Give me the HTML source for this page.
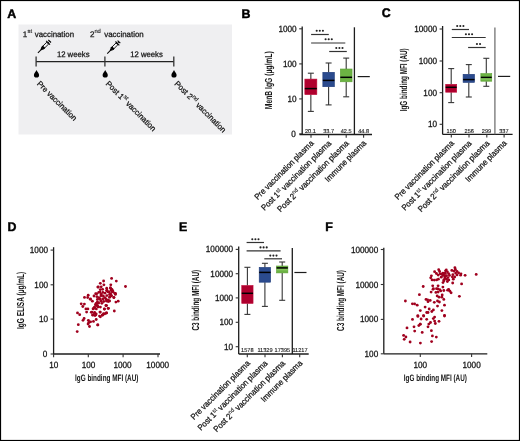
<!DOCTYPE html>
<html><head><meta charset="utf-8"><style>
html,body{margin:0;padding:0;background:#fff;}
svg{display:block;will-change:transform;}
text{font-family:"Liberation Sans",sans-serif;text-rendering:geometricPrecision;}
</style></head><body>
<svg width="520" height="441" viewBox="0 0 520 441">
<rect x="0.5" y="0.5" width="519" height="440" fill="#fff" stroke="#000" stroke-width="1.2"/>
<text x="7.20" y="17.60" font-size="12.4" text-anchor="start" font-weight="bold" fill="#000" stroke="#000" stroke-width="0.45" >A</text>
<text x="241.50" y="17.70" font-size="12.4" text-anchor="start" font-weight="bold" fill="#000" stroke="#000" stroke-width="0.45" >B</text>
<text x="381.70" y="17.20" font-size="12.4" text-anchor="start" font-weight="bold" fill="#000" stroke="#000" stroke-width="0.45" >C</text>
<text x="7.60" y="230.60" font-size="12.4" text-anchor="start" font-weight="bold" fill="#000" stroke="#000" stroke-width="0.45" >D</text>
<text x="179.00" y="230.60" font-size="12.4" text-anchor="start" font-weight="bold" fill="#000" stroke="#000" stroke-width="0.45" >E</text>
<text x="325.20" y="230.60" font-size="12.4" text-anchor="start" font-weight="bold" fill="#000" stroke="#000" stroke-width="0.45" >F</text>
<rect x="18.5" y="24.5" width="213.5" height="110" fill="#efeff1"/>
<line x1="36.10" y1="61.60" x2="173.80" y2="61.60" stroke="#222" stroke-width="1.1" stroke-linecap="butt"/>
<line x1="36.10" y1="56.60" x2="36.10" y2="66.40" stroke="#333" stroke-width="1.3" stroke-linecap="butt"/>
<line x1="104.90" y1="56.60" x2="104.90" y2="66.40" stroke="#333" stroke-width="1.3" stroke-linecap="butt"/>
<line x1="173.80" y1="56.60" x2="173.80" y2="66.40" stroke="#333" stroke-width="1.3" stroke-linecap="butt"/>
<g transform="translate(37.9,52.9) rotate(-45)" fill="none" stroke="#000"><line x1="0" y1="0" x2="5" y2="0" stroke-width="0.95"/><path d="M4.2 -0.6 L6.9 -1.7 L6.9 1.7 L4.2 0.6 Z" fill="#000" stroke="none"/><rect x="6.7" y="-1.7" width="2.0" height="3.4" fill="#000" stroke="none"/><rect x="6.9" y="-1.3" width="6.9" height="2.6" stroke-width="0.85"/><line x1="14.4" y1="-2.7" x2="14.4" y2="2.7" stroke-width="1.1"/><line x1="13.8" y1="0" x2="16.4" y2="0" stroke-width="0.9"/><line x1="16.6" y1="-1.9" x2="16.6" y2="1.9" stroke-width="1.1"/></g>
<g transform="translate(107.2,53.6) rotate(-45)" fill="none" stroke="#000"><line x1="0" y1="0" x2="5" y2="0" stroke-width="0.95"/><path d="M4.2 -0.6 L6.9 -1.7 L6.9 1.7 L4.2 0.6 Z" fill="#000" stroke="none"/><rect x="6.7" y="-1.7" width="2.0" height="3.4" fill="#000" stroke="none"/><rect x="6.9" y="-1.3" width="6.9" height="2.6" stroke-width="0.85"/><line x1="14.4" y1="-2.7" x2="14.4" y2="2.7" stroke-width="1.1"/><line x1="13.8" y1="0" x2="16.4" y2="0" stroke-width="0.9"/><line x1="16.6" y1="-1.9" x2="16.6" y2="1.9" stroke-width="1.1"/></g>
<path d="M36.5 70.0 C35.9 71.6 33.9 73.4 33.9 75.0 A2.6 2.6 0 0 0 39.1 75.0 C39.1 73.4 37.1 71.6 36.5 70.0 Z" fill="#000"/>
<path d="M105.2 70.0 C104.60000000000001 71.6 102.60000000000001 73.4 102.60000000000001 75.0 A2.6 2.6 0 0 0 107.8 75.0 C107.8 73.4 105.8 71.6 105.2 70.0 Z" fill="#000"/>
<path d="M174.0 70.0 C173.4 71.6 171.4 73.4 171.4 75.0 A2.6 2.6 0 0 0 176.6 75.0 C176.6 73.4 174.6 71.6 174.0 70.0 Z" fill="#000"/>
<text x="22.80" y="36.90" font-size="8.0" text-anchor="start" font-weight="normal" fill="#141414" stroke="#141414" stroke-width="0.25" >1</text>
<text x="27.50" y="33.30" font-size="5.8" text-anchor="start" font-weight="normal" fill="#141414" stroke="#141414" stroke-width="0.12" >st</text>
<text x="34.80" y="36.90" font-size="8.0" text-anchor="start" font-weight="normal" fill="#141414" stroke="#141414" stroke-width="0.25" textLength="39.2" lengthAdjust="spacingAndGlyphs">vaccination</text>
<text x="90.00" y="36.90" font-size="8.0" text-anchor="start" font-weight="normal" fill="#141414" stroke="#141414" stroke-width="0.25" >2</text>
<text x="94.40" y="33.30" font-size="5.8" text-anchor="start" font-weight="normal" fill="#141414" stroke="#141414" stroke-width="0.12" >nd</text>
<text x="104.20" y="36.90" font-size="8.0" text-anchor="start" font-weight="normal" fill="#141414" stroke="#141414" stroke-width="0.25" textLength="39.5" lengthAdjust="spacingAndGlyphs">vaccination</text>
<text x="56.90" y="57.20" font-size="8.0" text-anchor="start" font-weight="normal" fill="#141414" stroke="#141414" stroke-width="0.25" textLength="32.6" lengthAdjust="spacingAndGlyphs">12 weeks</text>
<text x="130.20" y="57.20" font-size="8.0" text-anchor="start" font-weight="normal" fill="#141414" stroke="#141414" stroke-width="0.25" textLength="32.6" lengthAdjust="spacingAndGlyphs">12 weeks</text>
<text transform="translate(36.6,84.2) rotate(45)" font-size="8.0" fill="#141414" stroke="#141414" stroke-width="0.25" textLength="52.6" lengthAdjust="spacingAndGlyphs">Pre vaccination</text>
<text transform="translate(105.3,84.2) rotate(45)" font-size="8.0" fill="#141414" stroke="#141414" stroke-width="0.25" textLength="67.2" lengthAdjust="spacingAndGlyphs">Post 1<tspan font-size="5.8" dy="-3.4" stroke-width="0.12">st</tspan><tspan dy="3.4"> vaccination</tspan></text>
<text transform="translate(174.0,84.2) rotate(45)" font-size="8.0" fill="#141414" stroke="#141414" stroke-width="0.25" textLength="69.0" lengthAdjust="spacingAndGlyphs">Post 2<tspan font-size="5.8" dy="-3.4" stroke-width="0.12">nd</tspan><tspan dy="3.4"> vaccination</tspan></text>
<line x1="302.20" y1="26.50" x2="302.20" y2="134.60" stroke="#1c1c1c" stroke-width="1.3" stroke-linecap="butt"/>
<line x1="299.20" y1="28.80" x2="302.20" y2="28.80" stroke="#333" stroke-width="1.1" stroke-linecap="butt"/>
<text x="296.60" y="31.80" font-size="9.0" text-anchor="end" font-weight="normal" fill="#161616" stroke="#161616" stroke-width="0.28" textLength="18.20" lengthAdjust="spacingAndGlyphs">1000</text>
<line x1="299.20" y1="63.90" x2="302.20" y2="63.90" stroke="#333" stroke-width="1.1" stroke-linecap="butt"/>
<text x="296.60" y="66.90" font-size="9.0" text-anchor="end" font-weight="normal" fill="#161616" stroke="#161616" stroke-width="0.28" textLength="13.65" lengthAdjust="spacingAndGlyphs">100</text>
<line x1="299.20" y1="98.90" x2="302.20" y2="98.90" stroke="#333" stroke-width="1.1" stroke-linecap="butt"/>
<text x="296.60" y="101.90" font-size="9.0" text-anchor="end" font-weight="normal" fill="#161616" stroke="#161616" stroke-width="0.28" textLength="9.10" lengthAdjust="spacingAndGlyphs">10</text>
<line x1="299.20" y1="133.90" x2="302.20" y2="133.90" stroke="#333" stroke-width="1.1" stroke-linecap="butt"/>
<text x="295.80" y="137.00" font-size="9.0" text-anchor="end" font-weight="normal" fill="#161616" stroke="#161616" stroke-width="0.28" textLength="4.55" lengthAdjust="spacingAndGlyphs">0</text>
<line x1="299.50" y1="134.50" x2="372.00" y2="134.50" stroke="#1c1c1c" stroke-width="1.3" stroke-linecap="butt"/>
<line x1="311.00" y1="134.50" x2="311.00" y2="137.70" stroke="#333" stroke-width="1.1" stroke-linecap="butt"/>
<line x1="328.60" y1="134.50" x2="328.60" y2="137.70" stroke="#333" stroke-width="1.1" stroke-linecap="butt"/>
<line x1="346.20" y1="134.50" x2="346.20" y2="137.70" stroke="#333" stroke-width="1.1" stroke-linecap="butt"/>
<line x1="363.60" y1="134.50" x2="363.60" y2="137.70" stroke="#333" stroke-width="1.1" stroke-linecap="butt"/>
<line x1="354.40" y1="27.30" x2="354.40" y2="134.50" stroke="#1c1c1c" stroke-width="1.3" stroke-linecap="butt"/>
<line x1="357.70" y1="76.60" x2="369.80" y2="76.60" stroke="#1c1c1c" stroke-width="1.2" stroke-linecap="butt"/>
<line x1="310.85" y1="73.20" x2="310.85" y2="79.10" stroke="#363636" stroke-width="1.1" stroke-linecap="butt"/>
<line x1="310.85" y1="94.60" x2="310.85" y2="111.40" stroke="#363636" stroke-width="1.1" stroke-linecap="butt"/>
<line x1="307.85" y1="73.20" x2="313.85" y2="73.20" stroke="#363636" stroke-width="1.1" stroke-linecap="butt"/>
<line x1="307.85" y1="111.40" x2="313.85" y2="111.40" stroke="#363636" stroke-width="1.1" stroke-linecap="butt"/>
<rect x="304.85" y="79.10" width="12.00" height="15.50" fill="#af002e" stroke="#bf0a38" stroke-width="0.6"/>
<line x1="304.85" y1="88.60" x2="316.85" y2="88.60" stroke="#000" stroke-width="1.5" stroke-linecap="butt"/>
<line x1="328.60" y1="63.00" x2="328.60" y2="72.30" stroke="#363636" stroke-width="1.1" stroke-linecap="butt"/>
<line x1="328.60" y1="86.70" x2="328.60" y2="104.90" stroke="#363636" stroke-width="1.1" stroke-linecap="butt"/>
<line x1="325.60" y1="63.00" x2="331.60" y2="63.00" stroke="#363636" stroke-width="1.1" stroke-linecap="butt"/>
<line x1="325.60" y1="104.90" x2="331.60" y2="104.90" stroke="#363636" stroke-width="1.1" stroke-linecap="butt"/>
<rect x="322.85" y="72.30" width="11.50" height="14.40" fill="#2b4b8e" stroke="#1d3a7a" stroke-width="0.6"/>
<line x1="322.85" y1="80.40" x2="334.35" y2="80.40" stroke="#000" stroke-width="1.5" stroke-linecap="butt"/>
<line x1="346.20" y1="58.10" x2="346.20" y2="69.00" stroke="#363636" stroke-width="1.1" stroke-linecap="butt"/>
<line x1="346.20" y1="81.80" x2="346.20" y2="96.80" stroke="#363636" stroke-width="1.1" stroke-linecap="butt"/>
<line x1="343.20" y1="58.10" x2="349.20" y2="58.10" stroke="#363636" stroke-width="1.1" stroke-linecap="butt"/>
<line x1="343.20" y1="96.80" x2="349.20" y2="96.80" stroke="#363636" stroke-width="1.1" stroke-linecap="butt"/>
<rect x="340.35" y="69.00" width="11.70" height="12.80" fill="#6cb343" stroke="#5aa032" stroke-width="0.6"/>
<line x1="340.35" y1="77.30" x2="352.05" y2="77.30" stroke="#000" stroke-width="1.5" stroke-linecap="butt"/>
<line x1="311.10" y1="34.50" x2="328.80" y2="34.50" stroke="#333" stroke-width="1.2" stroke-linecap="butt"/>
<circle cx="316.70" cy="30.80" r="1.05" fill="#222"/>
<circle cx="319.80" cy="30.80" r="1.05" fill="#222"/>
<circle cx="322.90" cy="30.80" r="1.05" fill="#222"/>
<line x1="311.10" y1="43.00" x2="345.30" y2="43.00" stroke="#333" stroke-width="1.2" stroke-linecap="butt"/>
<circle cx="325.60" cy="39.30" r="1.05" fill="#222"/>
<circle cx="328.70" cy="39.30" r="1.05" fill="#222"/>
<circle cx="331.80" cy="39.30" r="1.05" fill="#222"/>
<line x1="329.20" y1="51.50" x2="346.80" y2="51.50" stroke="#333" stroke-width="1.2" stroke-linecap="butt"/>
<circle cx="336.30" cy="48.00" r="1.05" fill="#222"/>
<circle cx="339.40" cy="48.00" r="1.05" fill="#222"/>
<circle cx="342.50" cy="48.00" r="1.05" fill="#222"/>
<text x="310.40" y="132.60" font-size="5.6" text-anchor="middle" font-weight="normal" fill="#161616" stroke="#161616" stroke-width="0.12" >20.1</text>
<text x="328.60" y="132.60" font-size="5.6" text-anchor="middle" font-weight="normal" fill="#161616" stroke="#161616" stroke-width="0.12" >33.7</text>
<text x="346.20" y="132.60" font-size="5.6" text-anchor="middle" font-weight="normal" fill="#161616" stroke="#161616" stroke-width="0.12" >42.5</text>
<text x="363.60" y="132.60" font-size="5.6" text-anchor="middle" font-weight="normal" fill="#161616" stroke="#161616" stroke-width="0.12" >44.8</text>
<line x1="442.60" y1="26.00" x2="442.60" y2="134.40" stroke="#1c1c1c" stroke-width="1.3" stroke-linecap="butt"/>
<line x1="439.60" y1="29.00" x2="442.60" y2="29.00" stroke="#333" stroke-width="1.1" stroke-linecap="butt"/>
<text x="437.00" y="32.00" font-size="9.0" text-anchor="end" font-weight="normal" fill="#161616" stroke="#161616" stroke-width="0.28" textLength="22.75" lengthAdjust="spacingAndGlyphs">10000</text>
<line x1="439.60" y1="61.00" x2="442.60" y2="61.00" stroke="#333" stroke-width="1.1" stroke-linecap="butt"/>
<text x="437.00" y="64.00" font-size="9.0" text-anchor="end" font-weight="normal" fill="#161616" stroke="#161616" stroke-width="0.28" textLength="18.20" lengthAdjust="spacingAndGlyphs">1000</text>
<line x1="439.60" y1="92.70" x2="442.60" y2="92.70" stroke="#333" stroke-width="1.1" stroke-linecap="butt"/>
<text x="437.00" y="95.70" font-size="9.0" text-anchor="end" font-weight="normal" fill="#161616" stroke="#161616" stroke-width="0.28" textLength="13.65" lengthAdjust="spacingAndGlyphs">100</text>
<line x1="439.60" y1="124.30" x2="442.60" y2="124.30" stroke="#333" stroke-width="1.1" stroke-linecap="butt"/>
<text x="437.00" y="127.30" font-size="9.0" text-anchor="end" font-weight="normal" fill="#161616" stroke="#161616" stroke-width="0.28" textLength="9.10" lengthAdjust="spacingAndGlyphs">10</text>
<line x1="442.60" y1="134.30" x2="512.60" y2="134.30" stroke="#1c1c1c" stroke-width="1.3" stroke-linecap="butt"/>
<line x1="451.30" y1="134.30" x2="451.30" y2="137.50" stroke="#333" stroke-width="1.1" stroke-linecap="butt"/>
<line x1="469.00" y1="134.30" x2="469.00" y2="137.50" stroke="#333" stroke-width="1.1" stroke-linecap="butt"/>
<line x1="486.80" y1="134.30" x2="486.80" y2="137.50" stroke="#333" stroke-width="1.1" stroke-linecap="butt"/>
<line x1="504.10" y1="134.30" x2="504.10" y2="137.50" stroke="#333" stroke-width="1.1" stroke-linecap="butt"/>
<line x1="494.90" y1="27.60" x2="494.90" y2="134.30" stroke="#7c7c7c" stroke-width="1.4" stroke-linecap="butt"/>
<line x1="498.00" y1="76.40" x2="510.20" y2="76.40" stroke="#1c1c1c" stroke-width="1.2" stroke-linecap="butt"/>
<line x1="451.20" y1="68.60" x2="451.20" y2="84.30" stroke="#363636" stroke-width="1.1" stroke-linecap="butt"/>
<line x1="451.20" y1="92.20" x2="451.20" y2="102.60" stroke="#363636" stroke-width="1.1" stroke-linecap="butt"/>
<line x1="448.20" y1="68.60" x2="454.20" y2="68.60" stroke="#363636" stroke-width="1.1" stroke-linecap="butt"/>
<line x1="448.20" y1="102.60" x2="454.20" y2="102.60" stroke="#363636" stroke-width="1.1" stroke-linecap="butt"/>
<rect x="445.70" y="84.30" width="11.00" height="7.90" fill="#af002e" stroke="#bf0a38" stroke-width="0.6"/>
<line x1="445.70" y1="87.30" x2="456.70" y2="87.30" stroke="#000" stroke-width="1.5" stroke-linecap="butt"/>
<line x1="468.80" y1="64.60" x2="468.80" y2="74.30" stroke="#363636" stroke-width="1.1" stroke-linecap="butt"/>
<line x1="468.80" y1="82.40" x2="468.80" y2="97.00" stroke="#363636" stroke-width="1.1" stroke-linecap="butt"/>
<line x1="465.80" y1="64.60" x2="471.80" y2="64.60" stroke="#363636" stroke-width="1.1" stroke-linecap="butt"/>
<line x1="465.80" y1="97.00" x2="471.80" y2="97.00" stroke="#363636" stroke-width="1.1" stroke-linecap="butt"/>
<rect x="463.10" y="74.30" width="11.40" height="8.10" fill="#2b4b8e" stroke="#1d3a7a" stroke-width="0.6"/>
<line x1="463.10" y1="79.60" x2="474.50" y2="79.60" stroke="#000" stroke-width="1.5" stroke-linecap="butt"/>
<line x1="486.30" y1="58.30" x2="486.30" y2="73.60" stroke="#363636" stroke-width="1.1" stroke-linecap="butt"/>
<line x1="486.30" y1="81.20" x2="486.30" y2="86.30" stroke="#363636" stroke-width="1.1" stroke-linecap="butt"/>
<line x1="483.30" y1="58.30" x2="489.30" y2="58.30" stroke="#363636" stroke-width="1.1" stroke-linecap="butt"/>
<line x1="483.30" y1="86.30" x2="489.30" y2="86.30" stroke="#363636" stroke-width="1.1" stroke-linecap="butt"/>
<rect x="480.85" y="73.60" width="10.90" height="7.60" fill="#6cb343" stroke="#5aa032" stroke-width="0.6"/>
<line x1="480.85" y1="77.40" x2="491.75" y2="77.40" stroke="#000" stroke-width="1.5" stroke-linecap="butt"/>
<line x1="481.00" y1="79.00" x2="491.60" y2="79.00" stroke="#9ad474" stroke-width="0.8" stroke-linecap="butt"/>
<line x1="451.80" y1="29.50" x2="469.00" y2="29.50" stroke="#333" stroke-width="1.2" stroke-linecap="butt"/>
<circle cx="457.20" cy="26.00" r="1.05" fill="#222"/>
<circle cx="460.30" cy="26.00" r="1.05" fill="#222"/>
<circle cx="463.40" cy="26.00" r="1.05" fill="#222"/>
<line x1="451.80" y1="37.50" x2="485.70" y2="37.50" stroke="#333" stroke-width="1.2" stroke-linecap="butt"/>
<circle cx="465.90" cy="34.20" r="1.05" fill="#222"/>
<circle cx="469.00" cy="34.20" r="1.05" fill="#222"/>
<circle cx="472.10" cy="34.20" r="1.05" fill="#222"/>
<line x1="468.10" y1="47.50" x2="485.70" y2="47.50" stroke="#333" stroke-width="1.2" stroke-linecap="butt"/>
<circle cx="476.95" cy="44.00" r="1.05" fill="#222"/>
<circle cx="480.05" cy="44.00" r="1.05" fill="#222"/>
<text x="451.20" y="132.70" font-size="5.6" text-anchor="middle" font-weight="normal" fill="#161616" stroke="#161616" stroke-width="0.12" >150</text>
<text x="469.20" y="132.70" font-size="5.6" text-anchor="middle" font-weight="normal" fill="#161616" stroke="#161616" stroke-width="0.12" >256</text>
<text x="486.50" y="132.70" font-size="5.6" text-anchor="middle" font-weight="normal" fill="#161616" stroke="#161616" stroke-width="0.12" >299</text>
<text x="503.90" y="132.70" font-size="5.6" text-anchor="middle" font-weight="normal" fill="#161616" stroke="#161616" stroke-width="0.12" >337</text>
<line x1="53.60" y1="247.20" x2="53.60" y2="354.00" stroke="#1c1c1c" stroke-width="1.3" stroke-linecap="butt"/>
<line x1="50.60" y1="250.10" x2="53.60" y2="250.10" stroke="#333" stroke-width="1.1" stroke-linecap="butt"/>
<text x="48.00" y="253.10" font-size="9.0" text-anchor="end" font-weight="normal" fill="#161616" stroke="#161616" stroke-width="0.28" textLength="18.20" lengthAdjust="spacingAndGlyphs">1000</text>
<line x1="50.60" y1="284.80" x2="53.60" y2="284.80" stroke="#333" stroke-width="1.1" stroke-linecap="butt"/>
<text x="48.00" y="287.80" font-size="9.0" text-anchor="end" font-weight="normal" fill="#161616" stroke="#161616" stroke-width="0.28" textLength="13.65" lengthAdjust="spacingAndGlyphs">100</text>
<line x1="50.60" y1="319.10" x2="53.60" y2="319.10" stroke="#333" stroke-width="1.1" stroke-linecap="butt"/>
<text x="48.00" y="322.10" font-size="9.0" text-anchor="end" font-weight="normal" fill="#161616" stroke="#161616" stroke-width="0.28" textLength="9.10" lengthAdjust="spacingAndGlyphs">10</text>
<line x1="50.60" y1="354.00" x2="53.60" y2="354.00" stroke="#333" stroke-width="1.1" stroke-linecap="butt"/>
<text x="47.20" y="357.10" font-size="9.0" text-anchor="end" font-weight="normal" fill="#161616" stroke="#161616" stroke-width="0.28" textLength="4.55" lengthAdjust="spacingAndGlyphs">0</text>
<line x1="53.60" y1="354.00" x2="160.00" y2="354.00" stroke="#1c1c1c" stroke-width="1.3" stroke-linecap="butt"/>
<line x1="53.60" y1="354.00" x2="53.60" y2="357.20" stroke="#333" stroke-width="1.1" stroke-linecap="butt"/>
<line x1="88.30" y1="354.00" x2="88.30" y2="357.20" stroke="#333" stroke-width="1.1" stroke-linecap="butt"/>
<line x1="123.10" y1="354.00" x2="123.10" y2="357.20" stroke="#333" stroke-width="1.1" stroke-linecap="butt"/>
<line x1="158.00" y1="354.00" x2="158.00" y2="357.20" stroke="#333" stroke-width="1.1" stroke-linecap="butt"/>
<text x="53.80" y="367.80" font-size="9.0" text-anchor="middle" font-weight="normal" fill="#161616" stroke="#161616" stroke-width="0.28" textLength="9.10" lengthAdjust="spacingAndGlyphs">10</text>
<text x="88.50" y="367.80" font-size="9.0" text-anchor="middle" font-weight="normal" fill="#161616" stroke="#161616" stroke-width="0.28" textLength="13.65" lengthAdjust="spacingAndGlyphs">100</text>
<text x="122.50" y="367.80" font-size="9.0" text-anchor="middle" font-weight="normal" fill="#161616" stroke="#161616" stroke-width="0.28" textLength="18.20" lengthAdjust="spacingAndGlyphs">1000</text>
<text x="157.70" y="367.80" font-size="9.0" text-anchor="middle" font-weight="normal" fill="#161616" stroke="#161616" stroke-width="0.28" textLength="22.75" lengthAdjust="spacingAndGlyphs">10000</text>
<line x1="238.70" y1="246.60" x2="238.70" y2="354.00" stroke="#1c1c1c" stroke-width="1.3" stroke-linecap="butt"/>
<line x1="235.70" y1="249.40" x2="238.70" y2="249.40" stroke="#333" stroke-width="1.1" stroke-linecap="butt"/>
<text x="233.10" y="252.40" font-size="9.0" text-anchor="end" font-weight="normal" fill="#161616" stroke="#161616" stroke-width="0.28" textLength="27.30" lengthAdjust="spacingAndGlyphs">100000</text>
<line x1="235.70" y1="273.70" x2="238.70" y2="273.70" stroke="#333" stroke-width="1.1" stroke-linecap="butt"/>
<text x="233.10" y="276.70" font-size="9.0" text-anchor="end" font-weight="normal" fill="#161616" stroke="#161616" stroke-width="0.28" textLength="22.75" lengthAdjust="spacingAndGlyphs">10000</text>
<line x1="235.70" y1="297.90" x2="238.70" y2="297.90" stroke="#333" stroke-width="1.1" stroke-linecap="butt"/>
<text x="233.10" y="300.90" font-size="9.0" text-anchor="end" font-weight="normal" fill="#161616" stroke="#161616" stroke-width="0.28" textLength="18.20" lengthAdjust="spacingAndGlyphs">1000</text>
<line x1="235.70" y1="322.30" x2="238.70" y2="322.30" stroke="#333" stroke-width="1.1" stroke-linecap="butt"/>
<text x="233.10" y="325.30" font-size="9.0" text-anchor="end" font-weight="normal" fill="#161616" stroke="#161616" stroke-width="0.28" textLength="13.65" lengthAdjust="spacingAndGlyphs">100</text>
<line x1="235.70" y1="346.70" x2="238.70" y2="346.70" stroke="#333" stroke-width="1.1" stroke-linecap="butt"/>
<text x="233.10" y="349.70" font-size="9.0" text-anchor="end" font-weight="normal" fill="#161616" stroke="#161616" stroke-width="0.28" textLength="9.10" lengthAdjust="spacingAndGlyphs">10</text>
<line x1="238.70" y1="354.00" x2="308.70" y2="354.00" stroke="#1c1c1c" stroke-width="1.3" stroke-linecap="butt"/>
<line x1="247.30" y1="354.00" x2="247.30" y2="357.20" stroke="#333" stroke-width="1.1" stroke-linecap="butt"/>
<line x1="265.00" y1="354.00" x2="265.00" y2="357.20" stroke="#333" stroke-width="1.1" stroke-linecap="butt"/>
<line x1="282.40" y1="354.00" x2="282.40" y2="357.20" stroke="#333" stroke-width="1.1" stroke-linecap="butt"/>
<line x1="299.70" y1="354.00" x2="299.70" y2="357.20" stroke="#333" stroke-width="1.1" stroke-linecap="butt"/>
<line x1="292.30" y1="248.00" x2="292.30" y2="354.00" stroke="#1c1c1c" stroke-width="1.3" stroke-linecap="butt"/>
<line x1="294.40" y1="272.50" x2="306.50" y2="272.50" stroke="#1c1c1c" stroke-width="1.2" stroke-linecap="butt"/>
<line x1="247.40" y1="267.30" x2="247.40" y2="285.50" stroke="#363636" stroke-width="1.1" stroke-linecap="butt"/>
<line x1="247.40" y1="303.40" x2="247.40" y2="314.40" stroke="#363636" stroke-width="1.1" stroke-linecap="butt"/>
<line x1="244.40" y1="267.30" x2="250.40" y2="267.30" stroke="#363636" stroke-width="1.1" stroke-linecap="butt"/>
<line x1="244.40" y1="314.40" x2="250.40" y2="314.40" stroke="#363636" stroke-width="1.1" stroke-linecap="butt"/>
<rect x="241.75" y="285.50" width="11.30" height="17.90" fill="#af002e" stroke="#bf0a38" stroke-width="0.6"/>
<line x1="241.75" y1="293.30" x2="253.05" y2="293.30" stroke="#000" stroke-width="1.5" stroke-linecap="butt"/>
<line x1="264.90" y1="263.30" x2="264.90" y2="267.40" stroke="#363636" stroke-width="1.1" stroke-linecap="butt"/>
<line x1="264.90" y1="282.20" x2="264.90" y2="306.40" stroke="#363636" stroke-width="1.1" stroke-linecap="butt"/>
<line x1="261.90" y1="263.30" x2="267.90" y2="263.30" stroke="#363636" stroke-width="1.1" stroke-linecap="butt"/>
<line x1="261.90" y1="306.40" x2="267.90" y2="306.40" stroke="#363636" stroke-width="1.1" stroke-linecap="butt"/>
<rect x="259.20" y="267.40" width="11.40" height="14.80" fill="#2b4b8e" stroke="#1d3a7a" stroke-width="0.6"/>
<line x1="259.20" y1="272.40" x2="270.60" y2="272.40" stroke="#000" stroke-width="1.5" stroke-linecap="butt"/>
<line x1="282.20" y1="262.00" x2="282.20" y2="266.00" stroke="#363636" stroke-width="1.1" stroke-linecap="butt"/>
<line x1="282.20" y1="272.90" x2="282.20" y2="300.30" stroke="#363636" stroke-width="1.1" stroke-linecap="butt"/>
<line x1="279.20" y1="262.00" x2="285.20" y2="262.00" stroke="#363636" stroke-width="1.1" stroke-linecap="butt"/>
<line x1="279.20" y1="300.30" x2="285.20" y2="300.30" stroke="#363636" stroke-width="1.1" stroke-linecap="butt"/>
<rect x="276.55" y="266.00" width="11.30" height="6.90" fill="#6cb343" stroke="#5aa032" stroke-width="0.6"/>
<line x1="276.55" y1="267.90" x2="287.85" y2="267.90" stroke="#000" stroke-width="1.5" stroke-linecap="butt"/>
<line x1="276.80" y1="269.80" x2="287.60" y2="269.80" stroke="#9ad474" stroke-width="0.8" stroke-linecap="butt"/>
<line x1="246.60" y1="242.50" x2="264.00" y2="242.50" stroke="#333" stroke-width="1.2" stroke-linecap="butt"/>
<circle cx="252.30" cy="239.30" r="1.05" fill="#222"/>
<circle cx="255.40" cy="239.30" r="1.05" fill="#222"/>
<circle cx="258.50" cy="239.30" r="1.05" fill="#222"/>
<line x1="246.60" y1="250.80" x2="280.60" y2="250.80" stroke="#333" stroke-width="1.2" stroke-linecap="butt"/>
<circle cx="260.50" cy="247.40" r="1.05" fill="#222"/>
<circle cx="263.60" cy="247.40" r="1.05" fill="#222"/>
<circle cx="266.70" cy="247.40" r="1.05" fill="#222"/>
<line x1="264.30" y1="258.80" x2="282.00" y2="258.80" stroke="#333" stroke-width="1.2" stroke-linecap="butt"/>
<circle cx="270.30" cy="255.60" r="1.05" fill="#222"/>
<circle cx="273.40" cy="255.60" r="1.05" fill="#222"/>
<circle cx="276.50" cy="255.60" r="1.05" fill="#222"/>
<text x="247.30" y="351.80" font-size="5.6" text-anchor="middle" font-weight="normal" fill="#161616" stroke="#161616" stroke-width="0.12" >1578</text>
<text x="265.00" y="351.80" font-size="5.6" text-anchor="middle" font-weight="normal" fill="#161616" stroke="#161616" stroke-width="0.12" >11329</text>
<text x="282.40" y="351.80" font-size="5.6" text-anchor="middle" font-weight="normal" fill="#161616" stroke="#161616" stroke-width="0.12" >17395</text>
<text x="300.00" y="351.80" font-size="5.6" text-anchor="middle" font-weight="normal" fill="#161616" stroke="#161616" stroke-width="0.12" >11217</text>
<line x1="383.80" y1="247.70" x2="383.80" y2="353.80" stroke="#1c1c1c" stroke-width="1.3" stroke-linecap="butt"/>
<line x1="380.80" y1="249.50" x2="383.80" y2="249.50" stroke="#333" stroke-width="1.1" stroke-linecap="butt"/>
<text x="378.20" y="252.50" font-size="9.0" text-anchor="end" font-weight="normal" fill="#161616" stroke="#161616" stroke-width="0.28" textLength="27.30" lengthAdjust="spacingAndGlyphs">100000</text>
<line x1="380.80" y1="284.50" x2="383.80" y2="284.50" stroke="#333" stroke-width="1.1" stroke-linecap="butt"/>
<text x="378.20" y="287.50" font-size="9.0" text-anchor="end" font-weight="normal" fill="#161616" stroke="#161616" stroke-width="0.28" textLength="22.75" lengthAdjust="spacingAndGlyphs">10000</text>
<line x1="380.80" y1="319.40" x2="383.80" y2="319.40" stroke="#333" stroke-width="1.1" stroke-linecap="butt"/>
<text x="378.20" y="322.40" font-size="9.0" text-anchor="end" font-weight="normal" fill="#161616" stroke="#161616" stroke-width="0.28" textLength="18.20" lengthAdjust="spacingAndGlyphs">1000</text>
<line x1="380.80" y1="353.80" x2="383.80" y2="353.80" stroke="#333" stroke-width="1.1" stroke-linecap="butt"/>
<text x="378.20" y="356.80" font-size="9.0" text-anchor="end" font-weight="normal" fill="#161616" stroke="#161616" stroke-width="0.28" textLength="13.65" lengthAdjust="spacingAndGlyphs">100</text>
<line x1="383.80" y1="353.80" x2="487.30" y2="353.80" stroke="#1c1c1c" stroke-width="1.3" stroke-linecap="butt"/>
<line x1="420.30" y1="353.80" x2="420.30" y2="357.00" stroke="#333" stroke-width="1.1" stroke-linecap="butt"/>
<line x1="471.60" y1="353.80" x2="471.60" y2="357.00" stroke="#333" stroke-width="1.1" stroke-linecap="butt"/>
<text x="420.30" y="367.60" font-size="9.0" text-anchor="middle" font-weight="normal" fill="#161616" stroke="#161616" stroke-width="0.28" textLength="13.65" lengthAdjust="spacingAndGlyphs">100</text>
<text x="471.60" y="367.60" font-size="9.0" text-anchor="middle" font-weight="normal" fill="#161616" stroke="#161616" stroke-width="0.28" textLength="18.20" lengthAdjust="spacingAndGlyphs">1000</text>
<text transform="translate(314.20,143.80) rotate(-45)" font-size="8.4" text-anchor="end" fill="#161616" stroke="#161616" stroke-width="0.26" textLength="79.9" lengthAdjust="spacingAndGlyphs">Pre vaccination plasma</text>
<text transform="translate(331.80,143.80) rotate(-45)" font-size="8.4" text-anchor="end" fill="#161616" stroke="#161616" stroke-width="0.26" textLength="95.2" lengthAdjust="spacingAndGlyphs">Post 1<tspan font-size="5.8" dy="-3.2" stroke-width="0.1">st</tspan><tspan dy="3.2"> vaccination plasma</tspan></text>
<text transform="translate(349.40,143.80) rotate(-45)" font-size="8.4" text-anchor="end" fill="#161616" stroke="#161616" stroke-width="0.26" textLength="97.3" lengthAdjust="spacingAndGlyphs">Post 2<tspan font-size="5.8" dy="-3.2" stroke-width="0.1">nd</tspan><tspan dy="3.2"> vaccination plasma</tspan></text>
<text transform="translate(366.80,143.80) rotate(-45)" font-size="8.4" text-anchor="end" fill="#161616" stroke="#161616" stroke-width="0.26" textLength="54.6" lengthAdjust="spacingAndGlyphs">Immune plasma</text>
<text transform="translate(454.50,143.80) rotate(-45)" font-size="8.4" text-anchor="end" fill="#161616" stroke="#161616" stroke-width="0.26" textLength="79.9" lengthAdjust="spacingAndGlyphs">Pre vaccination plasma</text>
<text transform="translate(472.20,143.80) rotate(-45)" font-size="8.4" text-anchor="end" fill="#161616" stroke="#161616" stroke-width="0.26" textLength="95.2" lengthAdjust="spacingAndGlyphs">Post 1<tspan font-size="5.8" dy="-3.2" stroke-width="0.1">st</tspan><tspan dy="3.2"> vaccination plasma</tspan></text>
<text transform="translate(490.00,143.80) rotate(-45)" font-size="8.4" text-anchor="end" fill="#161616" stroke="#161616" stroke-width="0.26" textLength="97.3" lengthAdjust="spacingAndGlyphs">Post 2<tspan font-size="5.8" dy="-3.2" stroke-width="0.1">nd</tspan><tspan dy="3.2"> vaccination plasma</tspan></text>
<text transform="translate(507.30,143.80) rotate(-45)" font-size="8.4" text-anchor="end" fill="#161616" stroke="#161616" stroke-width="0.26" textLength="54.6" lengthAdjust="spacingAndGlyphs">Immune plasma</text>
<text transform="translate(250.50,363.80) rotate(-45)" font-size="8.4" text-anchor="end" fill="#161616" stroke="#161616" stroke-width="0.26" textLength="79.9" lengthAdjust="spacingAndGlyphs">Pre vaccination plasma</text>
<text transform="translate(268.20,363.80) rotate(-45)" font-size="8.4" text-anchor="end" fill="#161616" stroke="#161616" stroke-width="0.26" textLength="95.2" lengthAdjust="spacingAndGlyphs">Post 1<tspan font-size="5.8" dy="-3.2" stroke-width="0.1">st</tspan><tspan dy="3.2"> vaccination plasma</tspan></text>
<text transform="translate(285.60,363.80) rotate(-45)" font-size="8.4" text-anchor="end" fill="#161616" stroke="#161616" stroke-width="0.26" textLength="97.3" lengthAdjust="spacingAndGlyphs">Post 2<tspan font-size="5.8" dy="-3.2" stroke-width="0.1">nd</tspan><tspan dy="3.2"> vaccination plasma</tspan></text>
<text transform="translate(302.90,363.80) rotate(-45)" font-size="8.4" text-anchor="end" fill="#161616" stroke="#161616" stroke-width="0.26" textLength="54.6" lengthAdjust="spacingAndGlyphs">Immune plasma</text>
<text transform="translate(271.60,109.20) rotate(-90)" font-size="10.2" font-weight="bold" fill="#161616" textLength="57.9" lengthAdjust="spacingAndGlyphs">MenB IgG (µg/mL)</text>
<text transform="translate(407.00,111.30) rotate(-90)" font-size="10.2" font-weight="bold" fill="#161616" textLength="63.0" lengthAdjust="spacingAndGlyphs">IgG binding MFI (AU)</text>
<text transform="translate(23.80,329.00) rotate(-90)" font-size="10.2" font-weight="bold" fill="#161616" textLength="57.2" lengthAdjust="spacingAndGlyphs">IgG ELISA (µg/mL)</text>
<text transform="translate(199.10,330.60) rotate(-90)" font-size="10.2" font-weight="bold" fill="#161616" textLength="60.7" lengthAdjust="spacingAndGlyphs">C3 binding MFI (AU)</text>
<text transform="translate(343.80,330.90) rotate(-90)" font-size="10.2" font-weight="bold" fill="#161616" textLength="60.9" lengthAdjust="spacingAndGlyphs">C3 binding MFI (AU)</text>
<text x="75" y="380.9" font-size="9.3" font-weight="bold" fill="#161616" textLength="63.4" lengthAdjust="spacingAndGlyphs">IgG binding MFI (AU)</text>
<text x="403.8" y="380.9" font-size="9.3" font-weight="bold" fill="#161616" textLength="63.1" lengthAdjust="spacingAndGlyphs">IgG binding MFI (AU)</text>
<g fill="#a0001e">
<circle cx="111.6" cy="278.4" r="1.42"/>
<circle cx="116.3" cy="281.1" r="1.42"/>
<circle cx="103.6" cy="281.0" r="1.42"/>
<circle cx="100.3" cy="283.3" r="1.42"/>
<circle cx="103.9" cy="284.8" r="1.42"/>
<circle cx="110.8" cy="284.8" r="1.42"/>
<circle cx="125.5" cy="286.5" r="1.42"/>
<circle cx="98.3" cy="287.0" r="1.42"/>
<circle cx="101.2" cy="286.8" r="1.42"/>
<circle cx="106.7" cy="288.2" r="1.42"/>
<circle cx="110.4" cy="287.9" r="1.42"/>
<circle cx="100.3" cy="289.6" r="1.42"/>
<circle cx="102.6" cy="289.3" r="1.42"/>
<circle cx="106.9" cy="290.2" r="1.42"/>
<circle cx="111.8" cy="289.3" r="1.42"/>
<circle cx="112.7" cy="291.1" r="1.42"/>
<circle cx="97.8" cy="287.1" r="1.42"/>
<circle cx="98.7" cy="292.4" r="1.42"/>
<circle cx="99.9" cy="291.9" r="1.42"/>
<circle cx="102.8" cy="292.4" r="1.42"/>
<circle cx="101.2" cy="294.2" r="1.42"/>
<circle cx="106.7" cy="290.8" r="1.42"/>
<circle cx="108.2" cy="291.9" r="1.42"/>
<circle cx="111.0" cy="290.1" r="1.42"/>
<circle cx="112.3" cy="291.9" r="1.42"/>
<circle cx="114.8" cy="293.3" r="1.42"/>
<circle cx="105.1" cy="293.1" r="1.42"/>
<circle cx="106.9" cy="295.6" r="1.42"/>
<circle cx="109.6" cy="294.4" r="1.42"/>
<circle cx="111.0" cy="295.3" r="1.42"/>
<circle cx="113.9" cy="297.6" r="1.42"/>
<circle cx="109.6" cy="297.2" r="1.42"/>
<circle cx="96.7" cy="293.8" r="1.42"/>
<circle cx="96.9" cy="296.7" r="1.42"/>
<circle cx="98.9" cy="297.6" r="1.42"/>
<circle cx="101.0" cy="295.8" r="1.42"/>
<circle cx="103.3" cy="296.0" r="1.42"/>
<circle cx="104.8" cy="297.6" r="1.42"/>
<circle cx="97.4" cy="299.4" r="1.42"/>
<circle cx="100.1" cy="299.2" r="1.42"/>
<circle cx="102.8" cy="299.0" r="1.42"/>
<circle cx="105.8" cy="299.0" r="1.42"/>
<circle cx="101.0" cy="301.2" r="1.42"/>
<circle cx="103.7" cy="301.5" r="1.42"/>
<circle cx="106.4" cy="301.0" r="1.42"/>
<circle cx="109.6" cy="301.0" r="1.42"/>
<circle cx="97.4" cy="301.9" r="1.42"/>
<circle cx="98.7" cy="303.0" r="1.42"/>
<circle cx="101.9" cy="303.3" r="1.42"/>
<circle cx="95.7" cy="293.7" r="1.42"/>
<circle cx="94.0" cy="296.0" r="1.42"/>
<circle cx="88.2" cy="295.2" r="1.42"/>
<circle cx="84.5" cy="297.4" r="1.42"/>
<circle cx="110.5" cy="287.8" r="1.42"/>
<circle cx="112.1" cy="289.9" r="1.42"/>
<circle cx="113.0" cy="291.7" r="1.42"/>
<circle cx="115.5" cy="293.5" r="1.42"/>
<circle cx="109.4" cy="291.9" r="1.42"/>
<circle cx="110.7" cy="293.9" r="1.42"/>
<circle cx="111.6" cy="295.8" r="1.42"/>
<circle cx="109.8" cy="297.1" r="1.42"/>
<circle cx="108.2" cy="301.6" r="1.42"/>
<circle cx="115.9" cy="302.1" r="1.42"/>
<circle cx="118.2" cy="301.2" r="1.42"/>
<circle cx="106.6" cy="305.6" r="1.42"/>
<circle cx="108.5" cy="308.3" r="1.42"/>
<circle cx="104.3" cy="309.0" r="1.42"/>
<circle cx="114.3" cy="311.0" r="1.42"/>
<circle cx="100.0" cy="312.1" r="1.42"/>
<circle cx="106.6" cy="312.9" r="1.42"/>
<circle cx="104.6" cy="313.9" r="1.42"/>
<circle cx="102.7" cy="315.0" r="1.42"/>
<circle cx="100.4" cy="316.8" r="1.42"/>
<circle cx="96.2" cy="319.5" r="1.42"/>
<circle cx="97.7" cy="324.9" r="1.42"/>
<circle cx="87.7" cy="297.5" r="1.42"/>
<circle cx="90.3" cy="299.3" r="1.42"/>
<circle cx="92.4" cy="301.2" r="1.42"/>
<circle cx="81.2" cy="303.8" r="1.42"/>
<circle cx="84.4" cy="304.1" r="1.42"/>
<circle cx="82.8" cy="306.5" r="1.42"/>
<circle cx="85.9" cy="308.9" r="1.42"/>
<circle cx="87.9" cy="308.9" r="1.42"/>
<circle cx="86.6" cy="312.1" r="1.42"/>
<circle cx="77.5" cy="312.9" r="1.42"/>
<circle cx="79.7" cy="314.7" r="1.42"/>
<circle cx="91.3" cy="312.3" r="1.42"/>
<circle cx="93.2" cy="308.7" r="1.42"/>
<circle cx="94.6" cy="312.3" r="1.42"/>
<circle cx="96.1" cy="313.8" r="1.42"/>
<circle cx="92.8" cy="315.2" r="1.42"/>
<circle cx="95.0" cy="315.6" r="1.42"/>
<circle cx="96.8" cy="305.4" r="1.42"/>
<circle cx="96.1" cy="303.3" r="1.42"/>
<circle cx="98.2" cy="306.9" r="1.42"/>
<circle cx="94.6" cy="307.6" r="1.42"/>
<circle cx="99.7" cy="298.9" r="1.42"/>
<circle cx="84.1" cy="318.5" r="1.42"/>
<circle cx="83.0" cy="320.3" r="1.42"/>
<circle cx="88.4" cy="320.3" r="1.42"/>
<circle cx="88.8" cy="322.5" r="1.42"/>
<circle cx="90.6" cy="321.8" r="1.42"/>
<circle cx="88.1" cy="324.0" r="1.42"/>
<circle cx="93.5" cy="321.4" r="1.42"/>
<circle cx="78.3" cy="324.7" r="1.42"/>
<circle cx="89.5" cy="326.5" r="1.42"/>
<circle cx="97.9" cy="324.9" r="1.42"/>
<circle cx="113.9" cy="297.5" r="1.42"/>
<circle cx="115.4" cy="294.4" r="1.42"/>
<circle cx="90.5" cy="298.9" r="1.42"/>
<circle cx="108.1" cy="299.8" r="1.42"/>
<circle cx="95.4" cy="304.8" r="1.42"/>
<circle cx="97.3" cy="303.4" r="1.42"/>
<circle cx="97.7" cy="306.2" r="1.42"/>
<circle cx="100.4" cy="307.1" r="1.42"/>
<circle cx="105.9" cy="305.5" r="1.42"/>
<circle cx="94.5" cy="307.1" r="1.42"/>
<circle cx="93.2" cy="308.9" r="1.42"/>
<circle cx="96.3" cy="308.9" r="1.42"/>
<circle cx="104.5" cy="309.1" r="1.42"/>
<circle cx="108.1" cy="308.4" r="1.42"/>
<circle cx="91.8" cy="312.1" r="1.42"/>
<circle cx="94.5" cy="313.4" r="1.42"/>
<circle cx="92.7" cy="314.8" r="1.42"/>
<circle cx="95.9" cy="314.8" r="1.42"/>
<circle cx="100.2" cy="312.1" r="1.42"/>
<circle cx="103.6" cy="313.6" r="1.42"/>
<circle cx="106.3" cy="313.0" r="1.42"/>
<circle cx="102.2" cy="315.2" r="1.42"/>
<circle cx="99.5" cy="316.1" r="1.42"/>
<circle cx="77.2" cy="331.6" r="1.42"/>
<circle cx="423.2" cy="286.5" r="1.42"/>
<circle cx="432.7" cy="285.8" r="1.42"/>
<circle cx="438.1" cy="285.8" r="1.42"/>
<circle cx="442.9" cy="287.1" r="1.42"/>
<circle cx="433.4" cy="288.7" r="1.42"/>
<circle cx="436.5" cy="288.7" r="1.42"/>
<circle cx="448.6" cy="289.3" r="1.42"/>
<circle cx="465.1" cy="275.3" r="1.42"/>
<circle cx="476.2" cy="274.4" r="1.42"/>
<circle cx="419.4" cy="294.7" r="1.42"/>
<circle cx="405.4" cy="301.0" r="1.42"/>
<circle cx="412.4" cy="303.8" r="1.42"/>
<circle cx="414.6" cy="303.9" r="1.42"/>
<circle cx="417.2" cy="305.2" r="1.42"/>
<circle cx="426.0" cy="299.4" r="1.42"/>
<circle cx="425.1" cy="307.1" r="1.42"/>
<circle cx="420.3" cy="310.6" r="1.42"/>
<circle cx="426.7" cy="312.5" r="1.42"/>
<circle cx="417.8" cy="315.6" r="1.42"/>
<circle cx="423.5" cy="315.6" r="1.42"/>
<circle cx="433.0" cy="289.3" r="1.42"/>
<circle cx="431.1" cy="292.1" r="1.42"/>
<circle cx="437.8" cy="289.0" r="1.42"/>
<circle cx="439.7" cy="289.6" r="1.42"/>
<circle cx="435.9" cy="292.4" r="1.42"/>
<circle cx="438.1" cy="292.1" r="1.42"/>
<circle cx="440.7" cy="290.9" r="1.42"/>
<circle cx="443.8" cy="290.5" r="1.42"/>
<circle cx="447.6" cy="290.2" r="1.42"/>
<circle cx="449.9" cy="291.2" r="1.42"/>
<circle cx="451.1" cy="292.8" r="1.42"/>
<circle cx="437.2" cy="295.9" r="1.42"/>
<circle cx="439.1" cy="297.2" r="1.42"/>
<circle cx="442.2" cy="295.0" r="1.42"/>
<circle cx="441.9" cy="297.2" r="1.42"/>
<circle cx="443.8" cy="299.4" r="1.42"/>
<circle cx="427.6" cy="299.8" r="1.42"/>
<circle cx="430.2" cy="300.4" r="1.42"/>
<circle cx="428.0" cy="301.7" r="1.42"/>
<circle cx="434.3" cy="302.3" r="1.42"/>
<circle cx="437.5" cy="301.0" r="1.42"/>
<circle cx="439.4" cy="302.0" r="1.42"/>
<circle cx="444.5" cy="305.2" r="1.42"/>
<circle cx="437.5" cy="306.1" r="1.42"/>
<circle cx="429.2" cy="309.0" r="1.42"/>
<circle cx="433.4" cy="309.9" r="1.42"/>
<circle cx="431.8" cy="311.5" r="1.42"/>
<circle cx="428.0" cy="312.5" r="1.42"/>
<circle cx="441.9" cy="310.6" r="1.42"/>
<circle cx="444.5" cy="315.3" r="1.42"/>
<circle cx="459.4" cy="296.3" r="1.42"/>
<circle cx="417.9" cy="316.4" r="1.42"/>
<circle cx="412.5" cy="319.4" r="1.42"/>
<circle cx="421.1" cy="319.0" r="1.42"/>
<circle cx="420.1" cy="324.2" r="1.42"/>
<circle cx="418.8" cy="325.6" r="1.42"/>
<circle cx="414.0" cy="326.8" r="1.42"/>
<circle cx="407.0" cy="327.9" r="1.42"/>
<circle cx="414.7" cy="331.1" r="1.42"/>
<circle cx="422.2" cy="332.4" r="1.42"/>
<circle cx="403.6" cy="335.4" r="1.42"/>
<circle cx="405.9" cy="337.0" r="1.42"/>
<circle cx="404.2" cy="339.3" r="1.42"/>
<circle cx="410.1" cy="342.0" r="1.42"/>
<circle cx="420.4" cy="343.1" r="1.42"/>
<circle cx="423.7" cy="316.0" r="1.42"/>
<circle cx="426.7" cy="319.3" r="1.42"/>
<circle cx="434.6" cy="317.1" r="1.42"/>
<circle cx="433.3" cy="318.6" r="1.42"/>
<circle cx="444.5" cy="316.0" r="1.42"/>
<circle cx="439.0" cy="321.3" r="1.42"/>
<circle cx="434.6" cy="321.1" r="1.42"/>
<circle cx="435.3" cy="323.5" r="1.42"/>
<circle cx="430.5" cy="322.5" r="1.42"/>
<circle cx="428.8" cy="324.1" r="1.42"/>
<circle cx="420.3" cy="324.2" r="1.42"/>
<circle cx="428.0" cy="326.8" r="1.42"/>
<circle cx="431.4" cy="330.7" r="1.42"/>
<circle cx="432.4" cy="335.9" r="1.42"/>
<circle cx="436.3" cy="337.1" r="1.42"/>
<circle cx="431.6" cy="341.6" r="1.42"/>
<circle cx="438.7" cy="269.7" r="1.42"/>
<circle cx="439.6" cy="271.5" r="1.42"/>
<circle cx="434.6" cy="271.7" r="1.42"/>
<circle cx="436.4" cy="273.5" r="1.42"/>
<circle cx="438.2" cy="275.1" r="1.42"/>
<circle cx="440.2" cy="273.8" r="1.42"/>
<circle cx="441.8" cy="274.2" r="1.42"/>
<circle cx="443.4" cy="274.2" r="1.42"/>
<circle cx="445.5" cy="270.8" r="1.42"/>
<circle cx="444.8" cy="273.3" r="1.42"/>
<circle cx="431.4" cy="275.8" r="1.42"/>
<circle cx="430.7" cy="277.8" r="1.42"/>
<circle cx="432.1" cy="279.9" r="1.42"/>
<circle cx="434.3" cy="280.1" r="1.42"/>
<circle cx="436.6" cy="279.9" r="1.42"/>
<circle cx="438.4" cy="279.2" r="1.42"/>
<circle cx="441.2" cy="277.2" r="1.42"/>
<circle cx="444.8" cy="278.1" r="1.42"/>
<circle cx="443.9" cy="280.8" r="1.42"/>
<circle cx="443.0" cy="282.6" r="1.42"/>
<circle cx="445.2" cy="276.2" r="1.42"/>
<circle cx="454.9" cy="267.7" r="1.42"/>
<circle cx="455.4" cy="269.5" r="1.42"/>
<circle cx="446.3" cy="269.9" r="1.42"/>
<circle cx="451.8" cy="270.4" r="1.42"/>
<circle cx="453.8" cy="271.1" r="1.42"/>
<circle cx="457.0" cy="271.5" r="1.42"/>
<circle cx="458.6" cy="272.9" r="1.42"/>
<circle cx="461.0" cy="273.8" r="1.42"/>
<circle cx="460.6" cy="275.2" r="1.42"/>
<circle cx="447.4" cy="271.8" r="1.42"/>
<circle cx="442.9" cy="273.1" r="1.42"/>
<circle cx="445.2" cy="273.3" r="1.42"/>
<circle cx="448.6" cy="273.6" r="1.42"/>
<circle cx="455.6" cy="273.1" r="1.42"/>
<circle cx="452.9" cy="274.7" r="1.42"/>
<circle cx="457.0" cy="274.9" r="1.42"/>
<circle cx="442.9" cy="275.6" r="1.42"/>
<circle cx="446.5" cy="275.6" r="1.42"/>
<circle cx="449.5" cy="275.4" r="1.42"/>
<circle cx="452.4" cy="277.0" r="1.42"/>
<circle cx="454.7" cy="277.0" r="1.42"/>
<circle cx="447.9" cy="277.6" r="1.42"/>
<circle cx="443.8" cy="279.9" r="1.42"/>
<circle cx="446.5" cy="279.2" r="1.42"/>
<circle cx="448.8" cy="279.9" r="1.42"/>
<circle cx="453.3" cy="279.2" r="1.42"/>
<circle cx="447.4" cy="281.5" r="1.42"/>
<circle cx="452.7" cy="283.0" r="1.42"/>
<circle cx="461.6" cy="283.9" r="1.42"/>
</g>
</svg>
</body></html>
